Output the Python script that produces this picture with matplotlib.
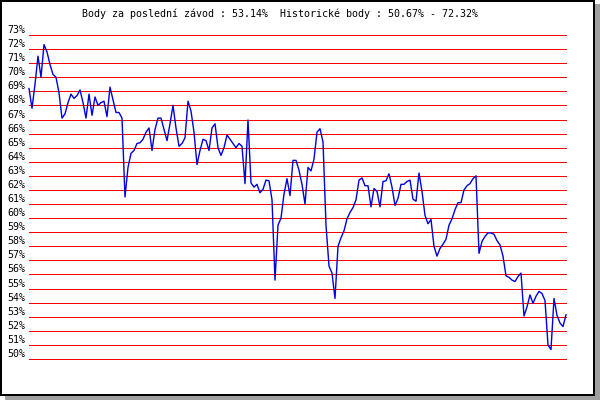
import matplotlib
matplotlib.use('Agg')
import matplotlib.pyplot as plt
from matplotlib.patches import Rectangle

title = 'Body za poslední závod : 53.14%  Historické body : 50.67% - 72.32%'

# points per race
body = [
    69.2, 67.8, 69.5, 71.5, 70.0, 72.32, 71.8, 70.9, 70.2, 70.0,
    68.9, 67.1, 67.4, 68.2, 68.8, 68.5, 68.7, 69.1, 68.2, 67.1,
    68.8, 67.3, 68.6, 68.0, 68.2, 68.3, 67.2, 69.3, 68.4, 67.5,
    67.5, 67.1, 61.5, 63.6, 64.6, 64.8, 65.3, 65.35, 65.6, 66.1,
    66.4, 64.8, 66.3, 67.1, 67.1, 66.3, 65.5, 66.7, 68.0, 66.4,
    65.1, 65.3, 65.7, 68.3, 67.6, 66.1, 63.8, 64.8, 65.6, 65.5,
    64.8, 66.4, 66.7, 65.0, 64.45, 65.0, 65.9, 65.6, 65.3, 65.0,
    65.3, 65.1, 62.45, 66.97, 62.5, 62.2, 62.4, 61.8, 62.05, 62.7,
    62.65, 61.3, 55.6, 59.5, 60.0, 61.7, 62.8, 61.6, 64.1, 64.1,
    63.4, 62.4, 61.0, 63.6, 63.35, 64.2, 66.1, 66.35, 65.4, 59.5,
    56.6, 56.1, 54.3, 58.0, 58.6, 59.1, 59.95, 60.4, 60.75, 61.3,
    62.7, 62.85, 62.3, 62.3, 60.8, 62.1, 61.9, 60.8, 62.6, 62.65,
    63.15, 62.2, 60.9, 61.4, 62.4, 62.4, 62.6, 62.7, 61.35, 61.2,
    63.2, 61.9, 60.2, 59.6, 59.9, 58.0, 57.3, 57.85, 58.15, 58.5,
    59.5, 59.95, 60.6, 61.1, 61.1, 62.0, 62.3, 62.45, 62.8, 63.0,
    57.5, 58.35, 58.7, 58.95, 58.95, 58.85, 58.4, 58.1, 57.3, 55.9,
    55.8, 55.6, 55.5, 55.85, 56.1, 53.05, 53.7, 54.55, 53.95, 54.45,
    54.8, 54.65, 54.15, 51.0, 50.67, 54.3, 53.1, 52.55, 52.3, 53.14,
]

y_ticks = list(range(50, 74))
y_labels = ['%d%%' % t for t in y_ticks]

fig = plt.figure(figsize=(6, 4), dpi=100)
fig.patch.set_facecolor('white')

# shadow + black frame
fig.patches.append(Rectangle((5 / 600, 0), 595 / 600, 396 / 400, transform=fig.transFigure,
                             facecolor='#a0a0a0', edgecolor='none', zorder=0))
fig.patches.append(Rectangle((1 / 600, 5 / 400), 593 / 600, 394 / 400, transform=fig.transFigure,
                             facecolor='white', edgecolor='black', linewidth=1.44, zorder=0))

ax = fig.add_axes([29 / 600, 41 / 400, 537 / 600, 324 / 400])
ax.set_zorder(3)
ax.patch.set_visible(False)
ax.set_xlim(0, len(body) - 1)
ax.set_ylim(50, 73)
for s in ax.spines.values():
    s.set_visible(False)

ax.hlines(y_ticks, 0, len(body) - 1, colors='#ff0000', linewidth=0.72,
          antialiased=False, clip_on=False, zorder=1)
ax.plot(range(len(body)), body, color='#0000dd', linewidth=1.0, clip_on=False, zorder=2)

ax.set_xticks([])
ax.set_yticks(y_ticks)
ax.set_yticklabels(y_labels, family='DejaVu Sans Mono', fontsize=7.2, va='bottom')
ax.tick_params(axis='y', length=0, pad=2.5)

fig.text(280 / 600, 1 - 13.5 / 400, title, ha='center', va='center',
         family='DejaVu Sans Mono', fontsize=7.2, zorder=4)

plt.savefig('out.png', dpi=100)
